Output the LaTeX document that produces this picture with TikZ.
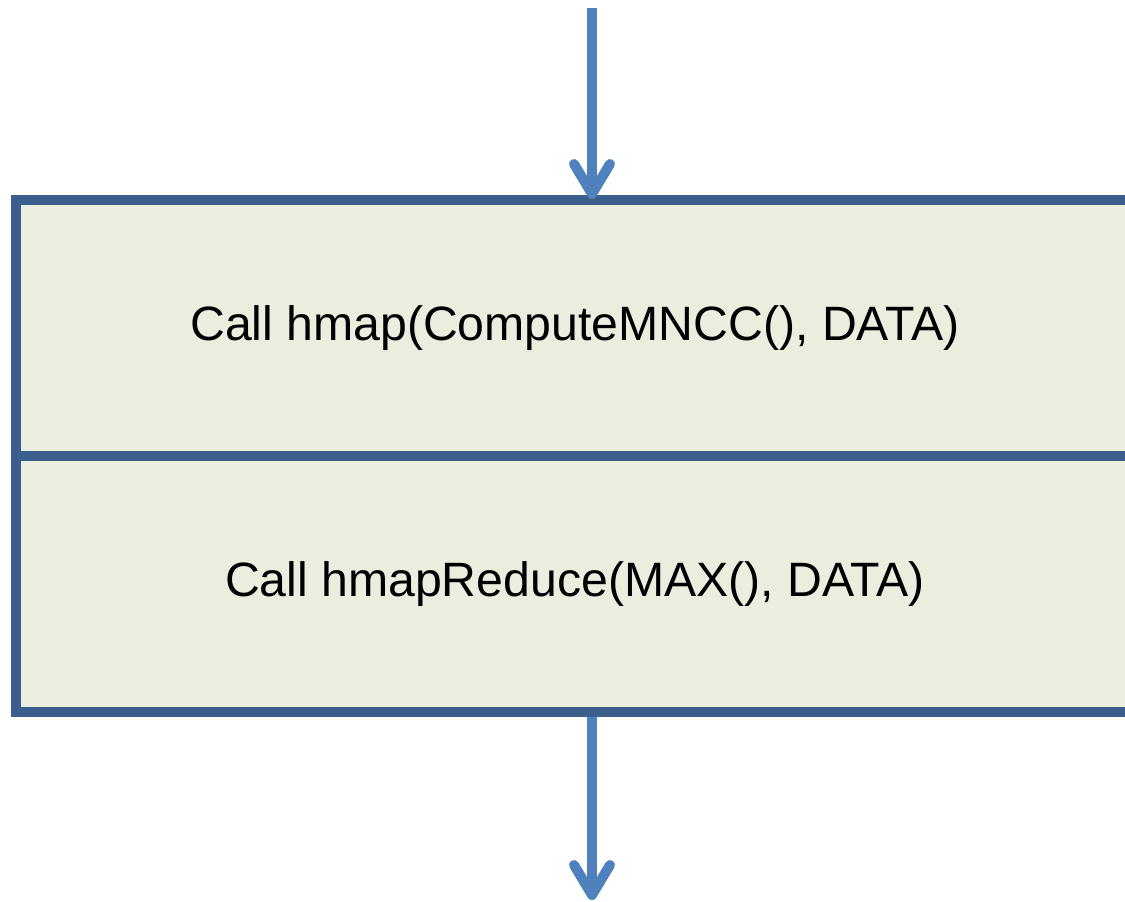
\documentclass[tikz,border=0pt]{standalone}
\usepackage{fontspec}
\setmainfont{Liberation Sans}
\usetikzlibrary{arrows.meta}
\definecolor{frameblue}{HTML}{3A5F8D}
\definecolor{panelfill}{HTML}{EBEEDF}
\definecolor{flowblue}{HTML}{4F81BD}
\tikzset{
  panel/.style={draw=frameblue, fill=panelfill, line width=10pt,
    rectangle, minimum width=1118pt, minimum height=256pt,
    inner sep=0pt, font=\fontsize{48.2}{58}\selectfont},
  flow/.style={draw=flowblue, line width=10pt,
    -{Straight Barb[length=30pt, width=36pt, round]}}
}
\begin{document}
\begin{tikzpicture}[x=1pt, y=-1pt]
  \useasboundingbox (0,0) rectangle (1125,902);
  \clip (0,0) rectangle (1125,902);
  % two stacked stages of the procedure
  \node[panel] (map)    at (575,328) {Call hmap(ComputeMNCC(), DATA)};
  \node[panel] (reduce) at (575,584) {Call hmapReduce(MAX(), DATA)};
  % entry and exit of the flow
  \coordinate (in)  at (592,8);
  \coordinate (out) at (592,900);
  \draw[flow] (in) -- ([yshift=-4pt]in |- map.north);
  \draw[flow] (reduce.south -| out) -- (out);
\end{tikzpicture}
\end{document}
